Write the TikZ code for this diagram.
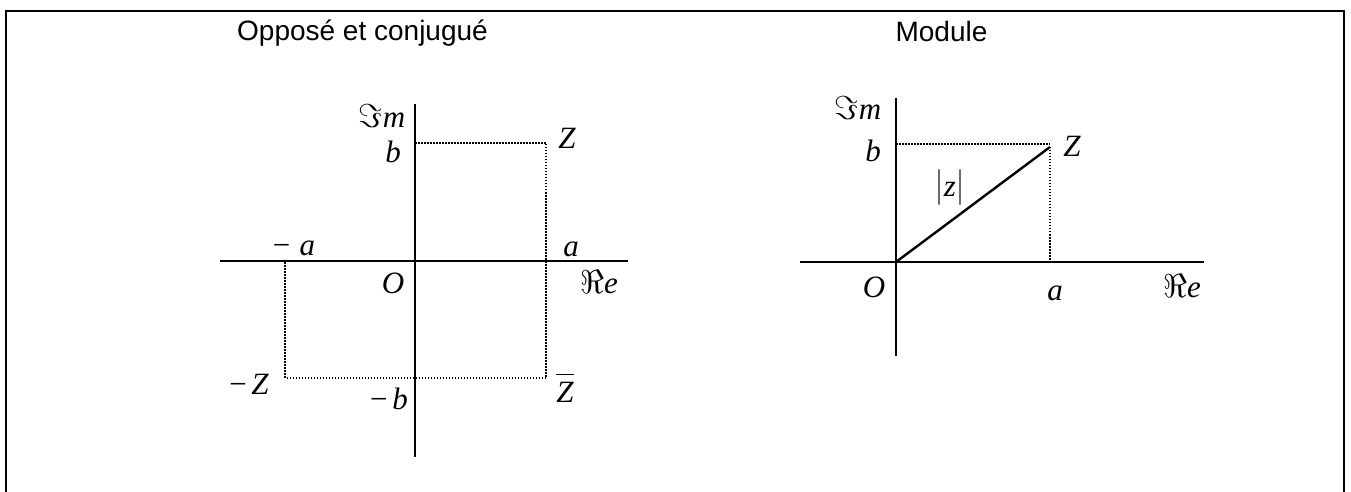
\documentclass[tikz,border=0pt]{standalone}
\usepackage{graphicx}
\usepackage{fontspec}
\setmainfont{Liberation Serif}
\newfontfamily\ttlfont{Liberation Sans}
\newcommand\myIm{\scalebox{1.15}{$\Im$}}
\newcommand\myRe{\scalebox{1.15}{$\Re$}}
\begin{document}
\begin{tikzpicture}[x=0.5pt,y=-0.5pt,
  lbl/.style={inner sep=0pt, font=\fontsize{15.5}{18}\selectfont\itshape},
  ttl/.style={inner sep=0pt, anchor=base, font=\ttlfont\fontsize{14}{17}\selectfont},
  axisline/.style={line width=1pt},
  dotline/.style={line width=0.75pt, dash pattern=on 0.75pt off 0.75pt},
  modline/.style={line width=1.2pt},
  frameline/.style={line width=1.1pt}]
\useasboundingbox (0,0) rectangle (1351,492);
% frame
\coordinate (fbl) at (6,500);
\coordinate (ftl) at (6,11);
\coordinate (ftr) at (1344,11);
\coordinate (fbr) at (1344,500);
\draw[frameline] (fbl) -- (ftl) -- (ftr) -- (fbr);
% titles
\node[ttl] (t1) at (362.5,41) {Opposé et conjugué};
\node[ttl] (t2) at (941.5,42) {Module};
% ---------- left diagram ----------
\coordinate (L1) at (220,261);
\coordinate (R1) at (628,261);
\coordinate (T1) at (415,104);
\coordinate (B1) at (415,457);
\draw[axisline] (L1) -- (R1);
\draw[axisline] (T1) -- (B1);
\coordinate (Zp) at (546,143);
\coordinate (bp) at (415,143);
\coordinate (Zbar) at (546,378);
\coordinate (mZ) at (285,378);
\coordinate (ma) at (285,261);
\draw[dotline] (bp) -- (Zp) -- (Zbar) -- (mZ) -- (ma);
\node[lbl] (im1) at (382,116) {\myIm m};
\node[lbl] (b1) at (393,152) {b};
\node[lbl] (z1) at (567,138) {Z};
\node[lbl] (ma1) at (293,248) {−\hspace{0.25em}a};
\node[lbl] (a1) at (571,249) {a};
\node[lbl] (o1) at (393,283) {O};
\node[lbl] (re1) at (599,282) {\myRe e};
\node[lbl] (mz1) at (248,384) {−\hspace{0.1em}Z};
\node[lbl] (mb1) at (388,399) {−\hspace{0.1em}b};
\node[lbl] (zb1) at (565,388) {$\overline{\hbox{\fontsize{15.5}{18}\selectfont\itshape\rule{0pt}{0.8em}Z}}$};
% ---------- right diagram ----------
\coordinate (L2) at (800,262);
\coordinate (R2) at (1204,262);
\coordinate (T2) at (896,98);
\coordinate (B2) at (896,356);
\draw[axisline] (L2) -- (R2);
\draw[axisline] (T2) -- (B2);
\coordinate (O2) at (896,262);
\coordinate (Z2) at (1050,147);
\coordinate (b2) at (896,144);
\coordinate (bz2) at (1050,144);
\coordinate (a2) at (1050,262);
\draw[dotline] (b2) -- (bz2);
\draw[dotline] (Z2) -- (a2);
\draw[modline] (O2) -- (Z2);
\node[lbl] (im2) at (858,108) {\myIm m};
\node[lbl] (b2l) at (873,151) {b};
\node[lbl] (z2) at (1072,146) {Z};
\node[lbl] (mod) at (950,188) {\scalebox{1}[1.25]{$|$}z\scalebox{1}[1.25]{$|$}};
\node[lbl] (o2) at (874,287) {O};
\node[lbl] (a2l) at (1055,293) {a};
\node[lbl] (re2) at (1182,286) {\myRe e};
\end{tikzpicture}
\end{document}
